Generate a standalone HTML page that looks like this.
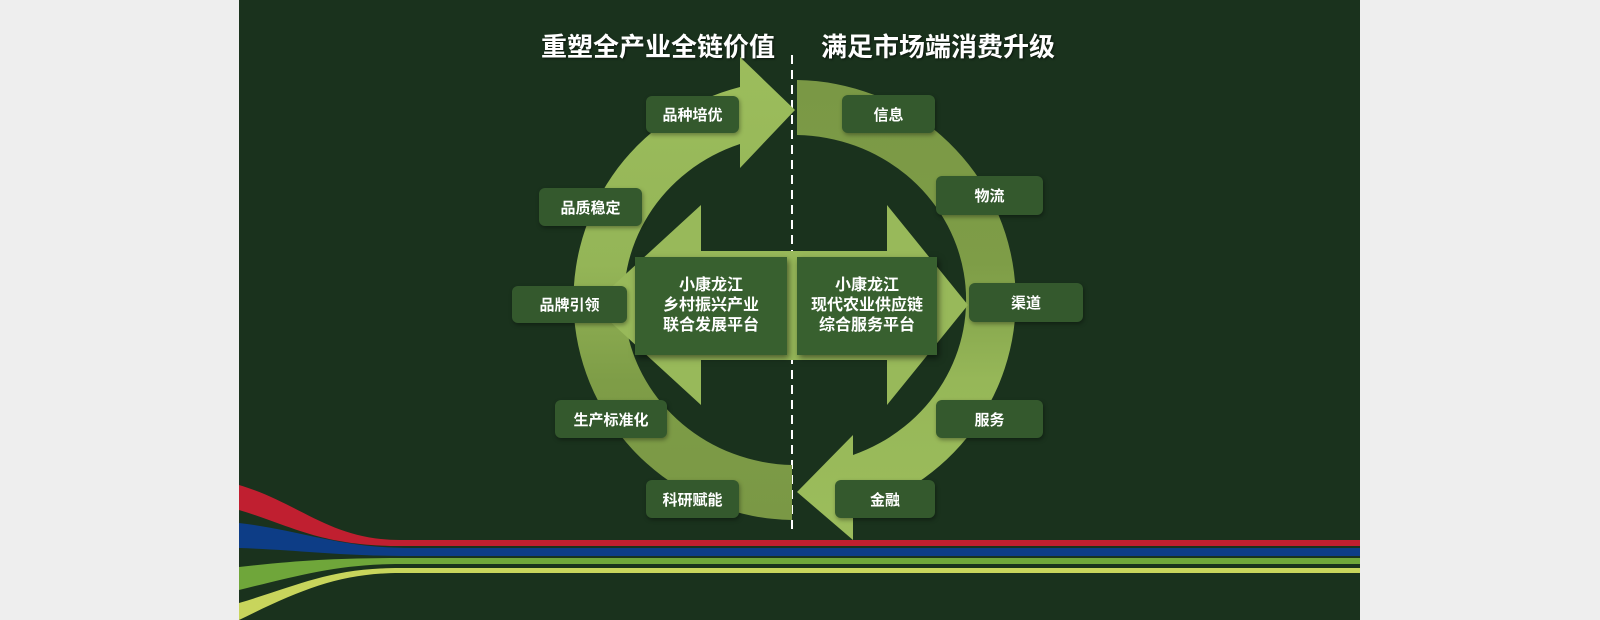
<!DOCTYPE html>
<html><head><meta charset="utf-8"><style>
html,body{margin:0;padding:0;}
body{width:1600px;height:620px;background:#eeeeee;position:relative;overflow:hidden;font-family:"Liberation Sans","Noto Sans CJK SC",sans-serif;}
#panel{position:absolute;left:239px;top:0;width:1121px;height:620px;background:#1a321d;}
svg{position:absolute;left:0;top:0;}
.lb{position:absolute;background:#34592d;border-radius:6px;color:#fff;font-weight:bold;font-size:15px;display:flex;align-items:center;justify-content:center;box-shadow:1px 2px 4px rgba(0,0,0,0.35);}
.cb{position:absolute;background:#38602f;color:#fff;font-weight:bold;font-size:16px;line-height:20px;display:flex;align-items:center;justify-content:center;text-align:center;box-shadow:2px 3px 6px rgba(0,0,0,0.5);}
.t{position:absolute;top:30px;color:#fff;font-weight:bold;font-size:26px;line-height:34px;white-space:nowrap;text-shadow:1px 1px 2px rgba(0,0,0,0.6);}
</style></head><body>
<div id="panel"></div>
<svg width="1600" height="620" viewBox="0 0 1600 620">
<defs>
<linearGradient id="gl" x1="0" y1="0" x2="0" y2="1" gradientUnits="objectBoundingBox">
<stop offset="0" stop-color="#9cbd5c"/><stop offset="0.45" stop-color="#94b557"/><stop offset="0.7" stop-color="#7e9d47"/><stop offset="1" stop-color="#7a9845"/></linearGradient>
<linearGradient id="gr" x1="0" y1="0" x2="0" y2="1" gradientUnits="objectBoundingBox">
<stop offset="0" stop-color="#7a9845"/><stop offset="0.4" stop-color="#7e9d47"/><stop offset="0.65" stop-color="#96b758"/><stop offset="1" stop-color="#9cbd5c"/></linearGradient>
</defs>
<path d="M239 485 C300 503,330 540,400 540 L1360 540 L1360 546 L400 546 C320 546,290 525,239 510 Z" fill="#c01f30"/>
<path d="M239 523 C300 530,340 548,410 548 L1360 548 L1360 556 L410 556 C340 556,300 550,239 548 Z" fill="#0d3d86"/>
<path d="M239 567 C300 560,340 558,400 558 L1360 558 L1360 564 L400 564 C340 564,300 575,239 590 Z" fill="#6fa63a"/>
<path d="M239 603 C300 585,330 568,400 568 L1360 568 L1360 573 L400 573 C340 573,300 590,239 620 Z" fill="#c8d55c"/>
<line x1="792" y1="55" x2="792" y2="535" stroke="#ffffff" stroke-width="2" stroke-dasharray="9,6"/>
<path d="M792 520 A222 220 0 0 1 740 87 L740 57 L795 110 L740 168 L740 144 A172 165 0 0 0 792 465 Z" fill="url(#gl)"/>
<path d="M797 80 A222 220 0 0 1 853 512 L853 540 L797 492 L853 435 L853 455 A172 165 0 0 0 797 135 Z" fill="url(#gr)"/>
<path d="M592 305 L701 205 L701 251 L887 251 L887 205 L968 305 L887 405 L887 360 L701 360 L701 405 Z" fill="#98b95a"/>
</svg>
<div class="t" style="left:541px;">重塑全产业全链价值</div>
<div class="t" style="left:821px;">满足市场端消费升级</div>
<div class="cb" style="left:635px;top:257px;width:152px;height:98px;">小康龙江<br>乡村振兴产业<br>联合发展平台</div>
<div class="cb" style="left:797px;top:257px;width:140px;height:98px;">小康龙江<br>现代农业供应链<br>综合服务平台</div>
<div class="lb" style="left:646px;top:96px;width:93px;height:37px;">品种培优</div>
<div class="lb" style="left:539px;top:188px;width:103px;height:38px;">品质稳定</div>
<div class="lb" style="left:512px;top:286px;width:115px;height:37px;">品牌引领</div>
<div class="lb" style="left:555px;top:400px;width:112px;height:38px;">生产标准化</div>
<div class="lb" style="left:646px;top:480px;width:93px;height:38px;">科研赋能</div>
<div class="lb" style="left:842px;top:95px;width:93px;height:38px;">信息</div>
<div class="lb" style="left:936px;top:176px;width:107px;height:39px;">物流</div>
<div class="lb" style="left:969px;top:283px;width:114px;height:39px;">渠道</div>
<div class="lb" style="left:936px;top:400px;width:107px;height:38px;">服务</div>
<div class="lb" style="left:835px;top:480px;width:100px;height:38px;">金融</div>
</body></html>
